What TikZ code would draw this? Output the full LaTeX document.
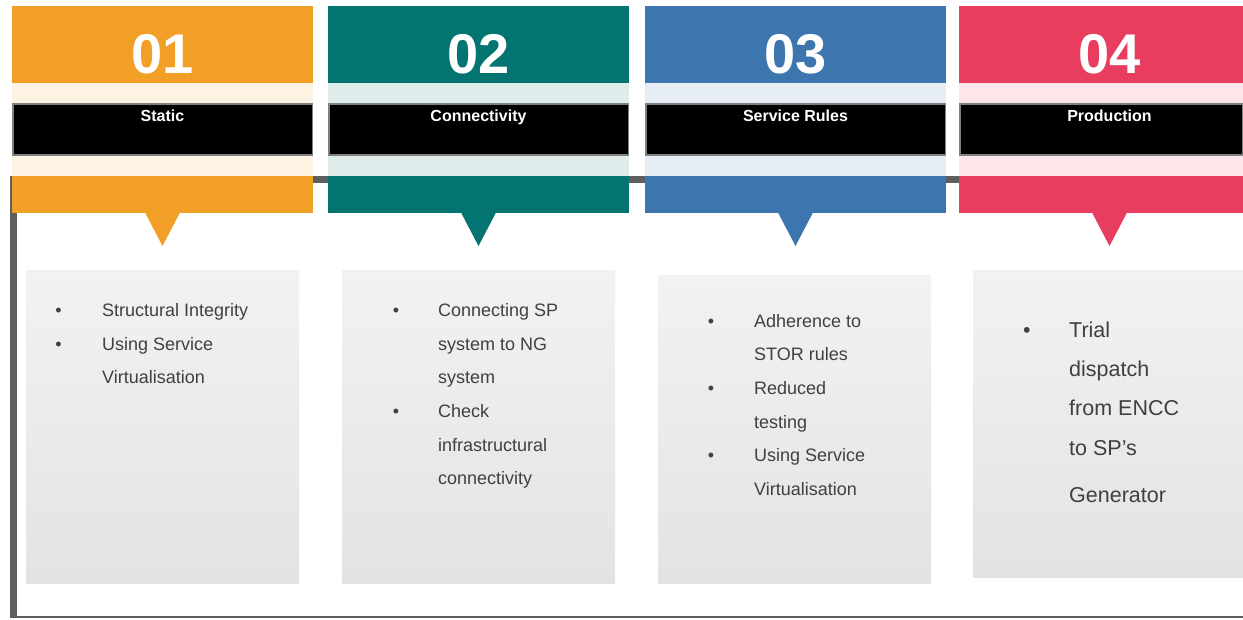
\documentclass[tikz,border=0pt]{standalone}
\usepackage{fontspec}
\setmainfont{Liberation Sans}
\definecolor{corange}{HTML}{F29F27}
\definecolor{cteal}{HTML}{037470}
\definecolor{cblue}{HTML}{3D76AE}
\definecolor{cred}{HTML}{E83D5F}
\definecolor{lineg}{HTML}{5E5E5E}
\definecolor{txtg}{HTML}{404040}
\definecolor{boxtop}{HTML}{F2F2F2}
\definecolor{boxbot}{HTML}{E3E3E3}
\definecolor{barborder}{HTML}{808080}
\tikzset{
  blockshape/.style={rectangle, inner sep=0pt, outer sep=0pt, anchor=north west, draw=none},
  titlebar/.style={blockshape, fill=black, draw=barborder, line width=1.5pt},
  numtxt/.style={anchor=base, inner sep=0pt, text=white, font=\fontsize{56}{60}\selectfont\bfseries},
  ttltxt/.style={anchor=base, inner sep=0pt, text=white, font=\fontsize{16}{18}\selectfont\bfseries},
  gbox/.style={blockshape, top color=boxtop, bottom color=boxbot, shading angle=0},
  itemtxt/.style={anchor=base west, inner sep=0pt, text=txtg, font=\fontsize{18}{20}\selectfont},
  bulletmark/.style={anchor=base, inner sep=0pt, text=txtg, font=\fontsize{18}{20}\selectfont},
  bigitem/.style={itemtxt, font=\fontsize{21.5}{24}\selectfont},
  bigbullet/.style={bulletmark, font=\fontsize{21.5}{24}\selectfont},
  timeline/.style={draw=lineg},
}
% #1 id, #2 left x, #3 width, #4 colour, #5 centre x, #6 number, #7 title
\newcommand\mkhead[7]{%
  \node[blockshape, fill=#4, minimum width=#3pt, minimum height=207pt] (h#1) at (#2,6) {};
  \node[blockshape, fill=#4!13, minimum width=#3pt, minimum height=20.5pt] (ba#1) at (#2,83) {};
  \node[blockshape, fill=#4!13, minimum width=#3pt, minimum height=20.5pt] (bb#1) at (#2,155.5) {};
  \node[titlebar, minimum width=#3pt-1.5pt, minimum height=51pt] (k#1) at (#2+0.75,104) {};
  \fill[#4] (#5-17.5,212.5) -- (#5+17.5,212.5) -- (#5,246) -- cycle;
  \node[numtxt] (n#1) at (#5,73.5) {#6};
  \node[ttltxt] (t#1) at (#5,121) {#7};
}
\begin{document}
\begin{tikzpicture}[x=1pt,y=-1pt]
\useasboundingbox (0,0) rectangle (1243,619);
\fill[white] (0,0) rectangle (1243,619);

% timeline
\coordinate (tlA) at (10,179.5);
\coordinate (tlB) at (1243,179.5);
\coordinate (vtop) at (13.5,176);
\coordinate (vbot) at (13.5,617);
\coordinate (botA) at (10,617);
\coordinate (botB) at (1243,617);
\draw[timeline, line width=7pt] (tlA) -- (tlB);
\draw[timeline, line width=7.5pt] (vtop) -- (vbot);
\draw[timeline, line width=2pt] (botA) -- (botB);

% headers
\mkhead{1}{12}{301}{corange}{162.5}{01}{Static}
\mkhead{2}{328}{301}{cteal}{478.5}{02}{Connectivity}
\mkhead{3}{645}{301}{cblue}{795.5}{03}{Service Rules}
\mkhead{4}{959}{284}{cred}{1109.5}{04}{Production}

% grey boxes
\node[gbox, minimum width=273pt, minimum height=313pt] (g1) at (26,270) {};
\node[gbox, minimum width=273pt, minimum height=313pt] (g2) at (342,270) {};
\node[gbox, minimum width=273pt, minimum height=308pt] (g3) at (658,275) {};
\node[gbox, minimum width=270pt, minimum height=307pt] (g4) at (973,270) {};

% column 1
\node[bulletmark] (p1a) at (58.5,316.7) {•};
\node[itemtxt] (l1a) at (102,316.7) {Structural Integrity};
\node[bulletmark] (p1b) at (58.5,350.3) {•};
\node[itemtxt] (l1b) at (102,350.3) {Using Service};
\node[itemtxt] (l1c) at (102,383.9) {Virtualisation};

% column 2
\node[bulletmark] (p2a) at (396,316.7) {•};
\node[itemtxt] (l2a) at (438,316.7) {Connecting SP};
\node[itemtxt] (l2b) at (438,350.3) {system to NG};
\node[itemtxt] (l2c) at (438,383.9) {system};
\node[bulletmark] (p2b) at (396,417.5) {•};
\node[itemtxt] (l2d) at (438,417.5) {Check};
\node[itemtxt] (l2e) at (438,451.1) {infrastructural};
\node[itemtxt] (l2f) at (438,484.7) {connectivity};

% column 3
\node[bulletmark] (p3a) at (711,327.3) {•};
\node[itemtxt] (l3a) at (754,327.3) {Adherence to};
\node[itemtxt] (l3b) at (754,360.9) {STOR rules};
\node[bulletmark] (p3b) at (711,394.5) {•};
\node[itemtxt] (l3c) at (754,394.5) {Reduced};
\node[itemtxt] (l3d) at (754,428.1) {testing};
\node[bulletmark] (p3c) at (711,461.7) {•};
\node[itemtxt] (l3e) at (754,461.7) {Using Service};
\node[itemtxt] (l3f) at (754,495.3) {Virtualisation};

% column 4
\node[bigbullet] (p4a) at (1027,337.3) {•};
\node[bigitem] (l4a) at (1069,337.3) {Trial};
\node[bigitem] (l4b) at (1069,376.5) {dispatch};
\node[bigitem] (l4c) at (1069,415.7) {from ENCC};
\node[bigitem] (l4d) at (1069,455.7) {to SP’s};
\node[bigitem] (l4e) at (1069,502.3) {Generator};
\end{tikzpicture}
\end{document}
